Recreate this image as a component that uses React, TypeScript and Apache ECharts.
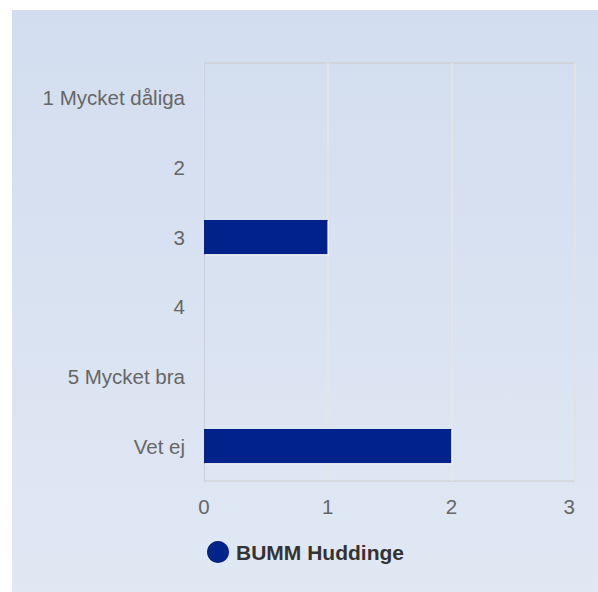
import React, { useEffect, useRef } from "react";
import * as echarts from "echarts";

const categories = ["1 Mycket dåliga", "2", "3", "4", "5 Mycket bra", "Vet ej"];
const seriesName = "BUMM Huddinge";
const values = [0, 0, 1, 0, 0, 2];
const xMin = 0;
const xMax = 3;
const xInterval = 1;

const FONT = "'Liberation Sans', Arial, sans-serif";

export default function App() {
  const ref = useRef<HTMLDivElement>(null);
  useEffect(() => {
    if (!ref.current) return;
    const chart = echarts.init(ref.current, null, { renderer: "svg" });
    chart.setOption({
      animation: false,
      backgroundColor: new echarts.graphic.LinearGradient(0, 0, 0, 1, [
        { offset: 0, color: "#d2ddef" },
        { offset: 1, color: "#e1e8f4" },
      ]),
      textStyle: { fontFamily: FONT },
      grid: {
        left: 192,
        top: 53,
        right: 23,
        bottom: 111,
        show: true,
        borderColor: "#cccccc",
        borderWidth: 1,
        backgroundColor: "transparent",
      },
      legend: {
        data: [{ name: seriesName, icon: "circle" }],
        left: 190,
        top: 526,
        itemWidth: 22,
        itemHeight: 22,
        textStyle: {
          color: "#333333",
          fontSize: 21,
          fontWeight: "bold",
          fontFamily: FONT,
          padding: [0, 0, 0, 2],
        },
      },
      xAxis: {
        type: "value",
        min: xMin,
        max: xMax,
        interval: xInterval,
        axisLine: { show: false },
        axisTick: { show: false },
        axisLabel: {
          color: "#666666",
          fontSize: 20.5,
          margin: 15,
          fontFamily: FONT,
          alignMaxLabel: "right",
        },
        splitLine: { show: true, lineStyle: { color: "#e6e6e6", width: 1.5 } },
      },
      yAxis: {
        type: "category",
        data: categories,
        inverse: true,
        axisLine: { show: true, lineStyle: { color: "#c8d0de" } },
        axisTick: { show: false },
        axisLabel: { color: "#666666", fontSize: 20.5, margin: 19, fontFamily: FONT },
        splitLine: { show: false },
      },
      series: [
        {
          name: seriesName,
          type: "bar",
          data: values,
          barWidth: "49%",
          itemStyle: {
            color: "#00248a",
            shadowColor: "rgba(255,255,255,0.95)",
            shadowOffsetX: 1,
            shadowOffsetY: 1,
            shadowBlur: 0,
          },
        },
      ],
    });
    return () => chart.dispose();
  }, []);
  return (
    <div
      ref={ref}
      style={{ position: "absolute", left: 12, top: 10, width: 586, height: 582 }}
    />
  );
}
